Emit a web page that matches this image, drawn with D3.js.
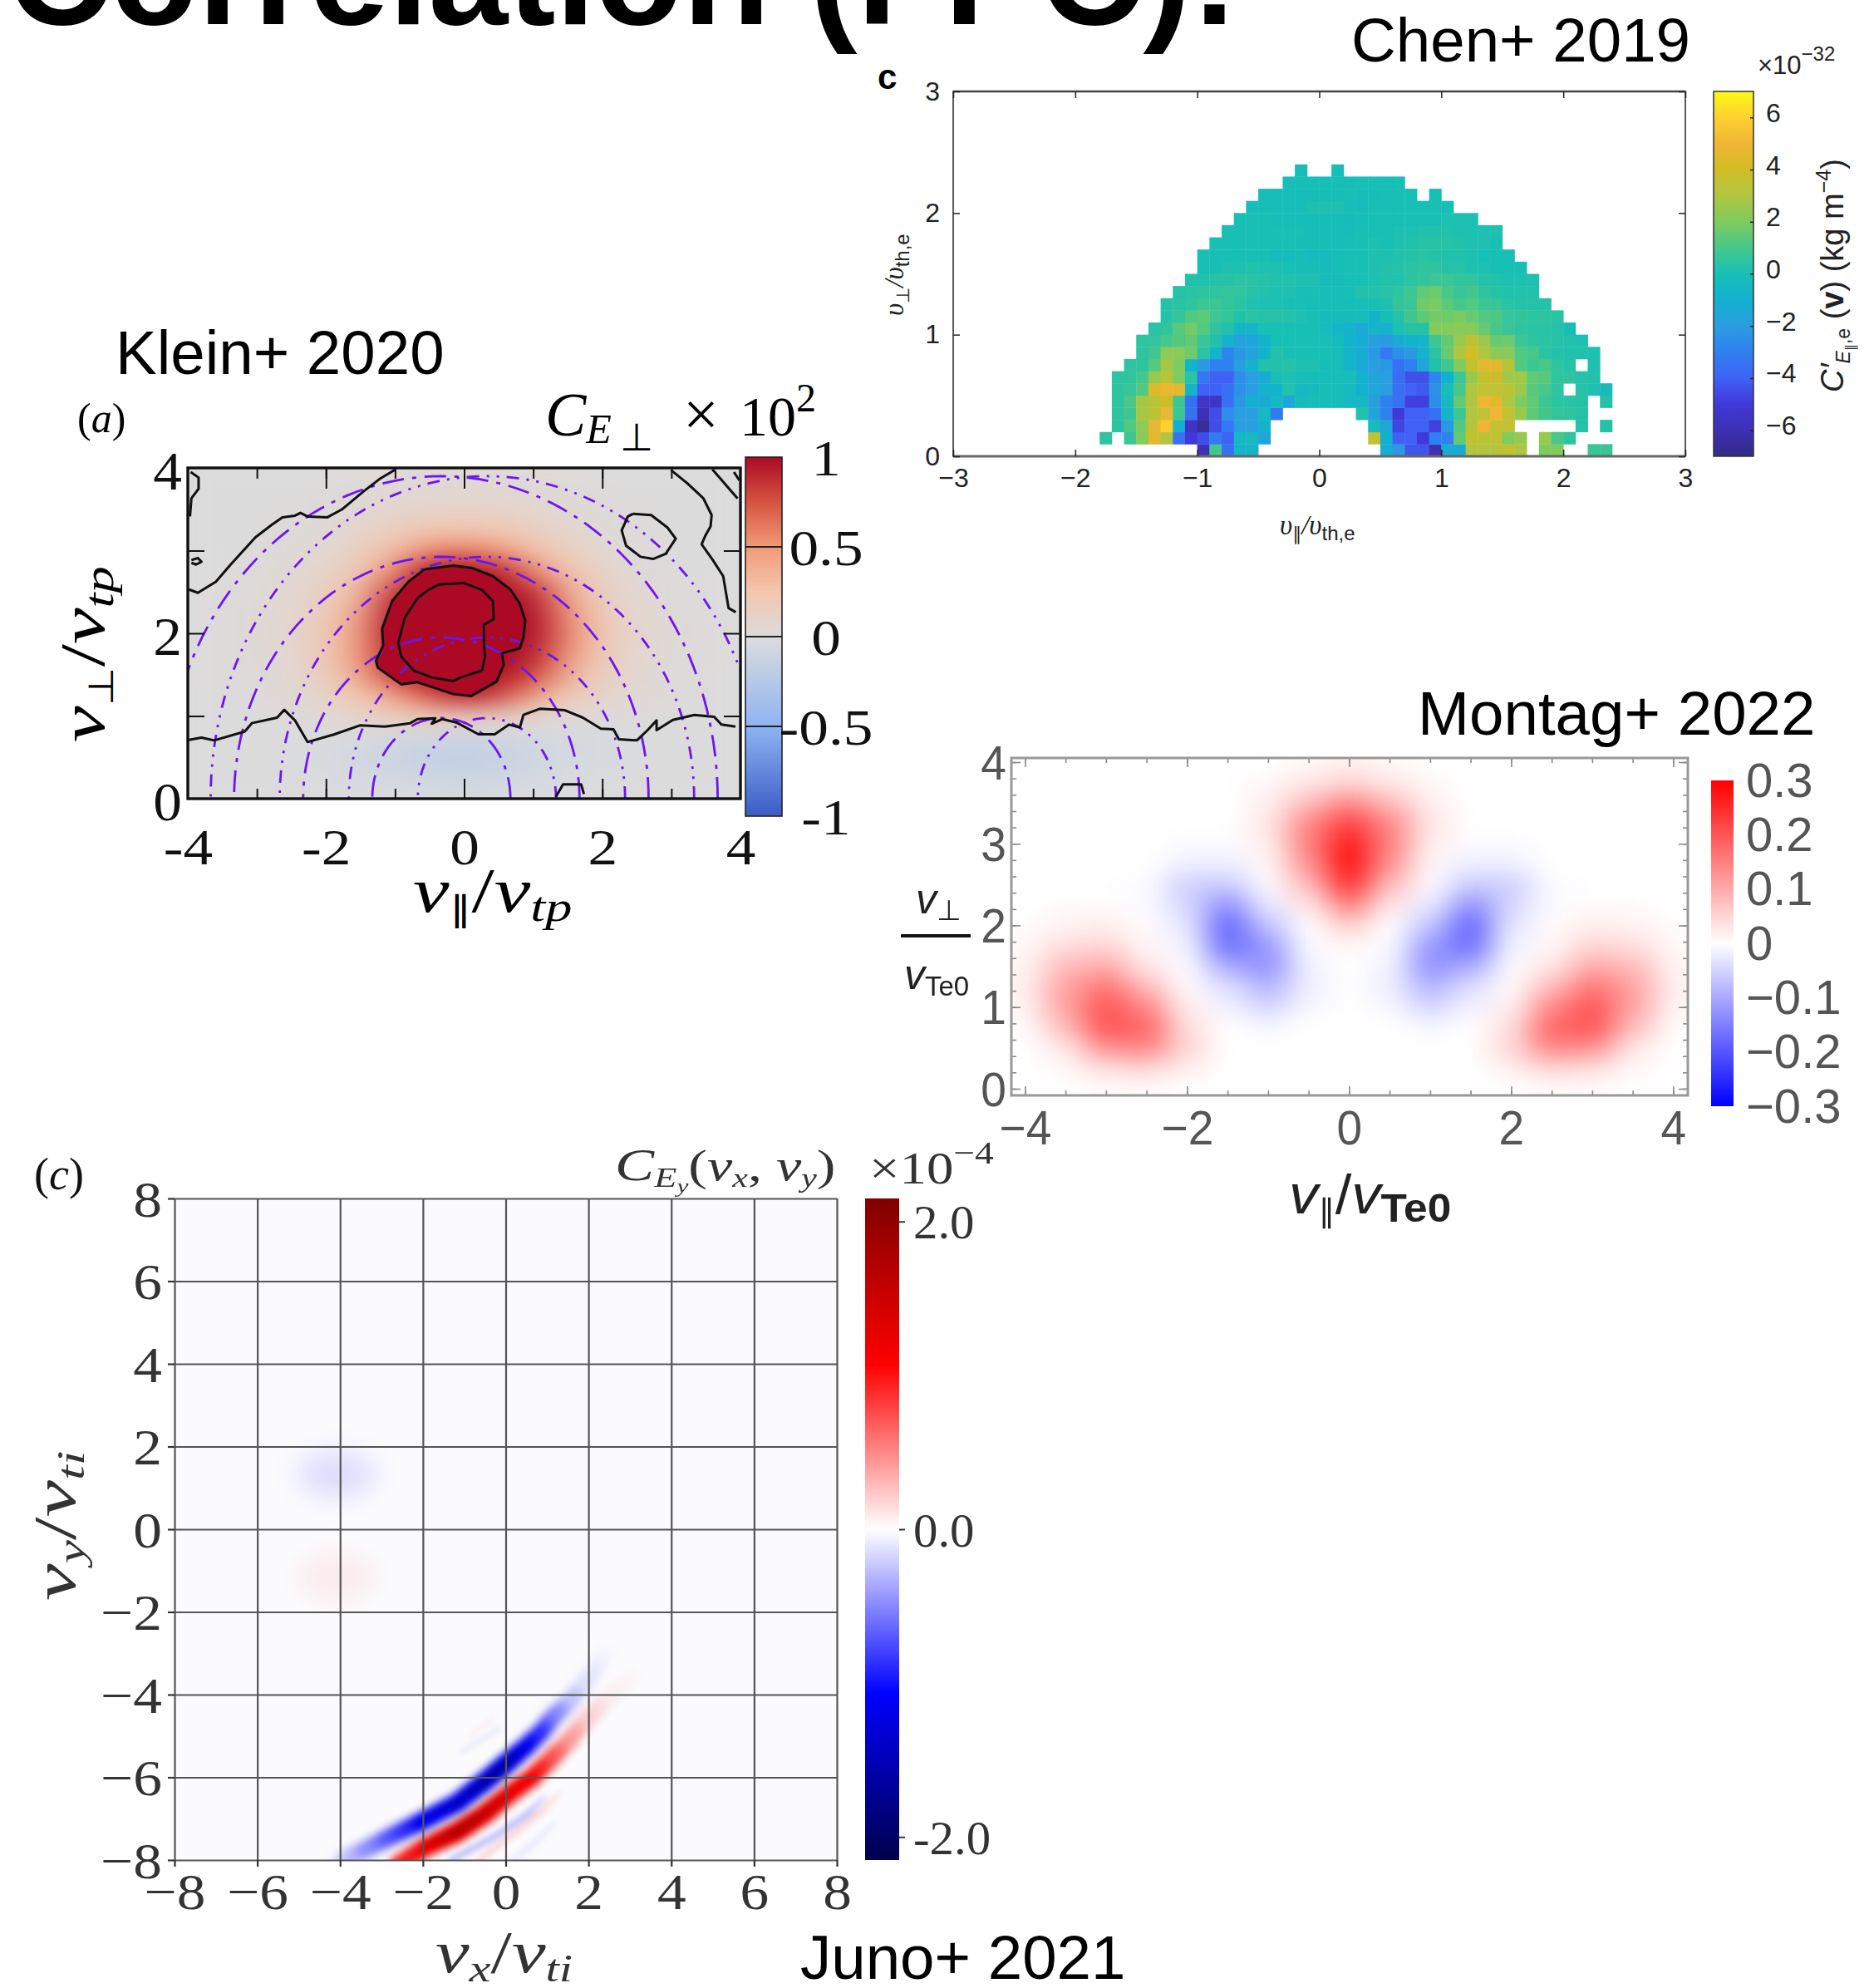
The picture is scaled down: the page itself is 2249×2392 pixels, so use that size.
<!DOCTYPE html>
<html><head><meta charset="utf-8">
<script src="https://cdn.jsdelivr.net/npm/d3@7/dist/d3.min.js"></script>
<style>html,body{margin:0;padding:0;background:#fff}svg{display:block}</style>
</head><body>
<svg id="c" width="2249" height="2392"></svg>
<script>
const _ = null;
// ---------- Chen+ 2019 : cells 0.1 x 0.1, column 0 starts at v_par=-2
const chenStarts = [10,2,3,3,3,3,3,4,5,5,6,7,7,8,9,10,10,11,12,13,14,15,17,18];
const chenRow0 = [-6,.9,-3.5,-.7,-.7,_,_,_,_,_,_,_,_,_,_,-1,-2.2,-4.3,-4.3,-6,-1.2,-1.2,3.2,3.2,3.2,3.6,3,_,2,2,_,_,.7,.7];
const chenRow1 = [.5,_,.8,2.2,4.7,3,-3.5,-5,-4.5,-3.2,-4,-.5,-.5,-1.5,_,_,_,_,_,_,_,_,3.5,-1,-4,-4,-5,-3,-3,1.5,3.5,3.3,3.5,2,2.5,_,2.5,1,.5];
const chenRow2 = [.5,1.2,2.3,4.8,6,-1,-5.5,-6.5,-4.5,-3.2,-2,-2,-.8,_,_,_,_,_,_,_,_,-.3,-1.5,-4.7,-4,-4,-4.8,-2.2,1.2,3.2,5,3.5,3.5,_,_,_,_,_,.3,_,.3];
const chenRow3 = [.5,.9,2.8,3.4,4.8,.8,-3.5,-6,-4.5,-2.5,-2,-2,-.5,-3.2,_,_,_,_,_,_,.2,-1.8,-3,-5,-4,-4,-3.5,-.8,.8,3,3.5,5,3.6,2.5,1.4,.9,.6,.5,.3];
const chenRow4 = [.5,1.1,2.8,3.3,4,.8,-3.5,-5.5,-5.5,-3.5,-2.2,-1,-1.3,-.5,-1.5,-.2,-.1,-.1,-.1,-.5,-.5,-2,-3,-3.5,-4.8,-4.8,-2.5,-.5,1.5,3,5,4.5,3,2,1.5,.8,.4,.4,.3,_,.3];
const chenRow5 = [.5,.7,1.2,4.4,4.8,4.6,-.7,-4,-4,-3.5,-2.4,-2,-.9,-.8,.2,-.5,-.3,-.1,-.1,-.4,-1,-1.5,-2,-3.6,-4,-4.2,-2.4,-.1,1,3,3.5,3.5,3.4,2.6,1.3,1,.5,_,.3,.1,-.2];
const chenRow6 = [.5,.5,1,2.5,3.3,2,.4,-3.3,-4,-4,-2.5,-2,-1.2,0,.1,-.1,-.1,-.1,-.1,-.1,-.9,-1.6,-2,-3.6,-4.4,-4.4,-2.8,-1,.8,2.5,3.6,3.8,2.7,2.7,1.5,1.3,.5,.5,.3,.2];
const chenRow7 = [.5,.5,1.3,2.8,2,-.9,-2.2,-3,-3,-2,-.8,.2,.2,.3,.1,.1,-.1,-.1,-.7,-1.3,-2,-2.2,-3.5,-3,-1.5,.2,.9,2,3.6,4.6,4.6,3.2,1.2,.8,1,.5,.3,_,.1];
const chenRow8 = [.5,.9,2.3,2.2,1.7,.4,-.8,-2.8,-2.2,-1.7,-.8,.2,0,0,0,0,-.1,-.7,-1.2,-2.2,-3.2,-2.5,-2.2,-.9,.4,1.6,3,4.1,3,2.2,2.2,1.2,1,.4,.2,.2,.2,.1];
const chenRow9 = [.5,.6,1,1.2,1.5,.7,.2,-.8,-1.7,-1.6,-.8,0,0,0,0,0,-.3,-.9,-1.1,-1.9,-2.1,-1.3,-.8,-.7,.8,1.5,2.6,3.4,2.6,1.6,1.7,.8,.5,.4,.3,.2,.1];
const chenRow10 = [.4,.6,1.3,1.8,1.2,.5,.2,-.6,-.7,0,0,0,0,0,-.3,-.6,-.9,-1.4,-.7,-.9,.1,.3,.3,2.1,2.1,2.2,2.2,1.6,1,.7,.5,.4,.4,.3,-.1];
const chenRow11 = [.3,.6,1.2,1.4,.8,.6,.2,.4,.3,.3,.3,.1,0,-.2,-.2,-.2,-.2,-.8,-.1,.3,.9,1.4,1.8,1.7,1.9,1.6,1.2,1.1,.7,.6,.5,.5,.4];
const chenRow12 = [.3,.4,.5,.8,.8,.6,.4,.2,.1,.1,0,0,-.1,-.1,-.1,-.1,-.1,0,.1,.6,.7,1.7,1.9,1.4,1,1.2,.8,.7,.4,.3,.3,.3];
const chenRow13 = [.3,.4,.5,.5,.6,.5,.3,.2,.1,.1,0,0,-.1,-.1,0,.2,.2,.3,.5,.8,1.5,1.7,1,.7,.9,.5,.3,.2,.2,.2];
const chenRow14 = [.2,.2,.3,.3,.4,.4,.3,.2,.2,.1,.1,-.2,-.2,0,0,.1,.2,.2,.4,.6,.8,.8,.6,.6,.3,.2,.1,.1,.1];
const chenRow15 = [0,0,.1,.1,.2,.1,.1,0,-.1,-.1,-.2,-.1,0,0,.1,.2,.3,.4,.5,.5,.3,.3,.1,.1,0,0,0];
const chenRow16 = [0,0,0,0,0,0,-.2,-.3,-.1,-.3,-.3,-.1,0,0,.1,.1,.2,.3,.4,.3,.2,.2,.1,0,0,0];
const chenRow17 = [0,0,0,0,0,0,0,-.1,-.1,-.1,-.1,0,0,.1,0,.1,.2,.3,.3,.3,.2,.1,.1,0];
const chenRow18 = [0,0,0,0,0,0,0,-.1,-.1,-.1,-.1,0,0,0,.1,.1,.2,.2,.2,.1,.1,.1,.1];
const chenRow19 = [0,0,0,-.1,-.1,-.1,-.1,-.1,-.1,-.2,-.1,0,0,0,0,0,0,.1,.1,.1];
const chenRow20 = [-.1,-.1,-.1,-.1,-.1,.1,.1,.1,-.1,-.2,0,0,0,0,0,0,0];
const chenRow21 = [-.1,-.1,-.1,-.1,-.1,-.1,-.1,0,-.1,-.1,0,0,0,_,0];
const chenRow22 = [-.1,-.1,-.1,-.1,-.1,-.1,0,0,0,0];
const chenRow23 = [-.1,_,_,-.1];
const chenRows = [chenRow0,chenRow1,chenRow2,chenRow3,chenRow4,chenRow5,chenRow6,chenRow7,chenRow8,chenRow9,chenRow10,chenRow11,chenRow12,chenRow13,chenRow14,chenRow15,chenRow16,chenRow17,chenRow18,chenRow19,chenRow20,chenRow21,chenRow22,chenRow23];
const chenColorValues = [-7,-6,-5,-4,-3,-2,-1,0,1,2,3,4,5,6,7];
const chenColors = ["#352a87","#3d30b4","#4038d8","#3f62f5","#2f80f0","#2a9ee0","#12b0d0","#18bfb5","#45c88a","#7fcb5e","#b0c640","#d0bd25","#f0b535","#ffd030","#f9fb15"];
const chenTicks = [-3,-2,-1,0,1,2,3];
const chenYTicks = [0,1,2,3];
const chenBarTicks = [6,4,2,0,-2,-4,-6];

// ---------- Klein+ 2020
const kleinX = [-4,-3.5,-3,-2.5,-2,-1.5,-1,-.5,0,.5,1,1.5,2,2.5,3,3.5,4];
const kleinY = [4,3.75,3.5,3.25,3,2.75,2.5,2.25,2,1.75,1.5,1.25,1,.75,.5,.25,0];
const kleinGrid = [
[0,0,0,0,0,0,.02,.03,.03,.03,.02,0,0,0,0,0,0],
[0,0,0,0,.01,.03,.04,.05,.05,.05,.04,.02,.01,0,0,0,0],
[0,0,0,.01,.03,.05,.08,.1,.1,.1,.07,.04,.02,.01,0,0,0],
[0,0,0,.02,.04,.09,.16,.22,.24,.22,.14,.08,.04,.01,0,0,0],
[0,0,.01,.03,.06,.14,.3,.55,.6,.5,.28,.14,.06,.02,0,0,0],
[0,0,.02,.04,.1,.22,.55,1,1,.95,.55,.25,.1,.03,.01,0,0],
[0,.01,.02,.06,.14,.32,.85,1,1,1,.9,.38,.14,.05,.02,0,0],
[0,.01,.03,.07,.18,.42,1,1,1,1,1,.5,.18,.07,.02,0,0],
[0,.01,.03,.08,.2,.5,1,1,1,1,1,.55,.2,.08,.03,.01,0],
[0,.01,.03,.07,.2,.5,.95,1,1,1,.95,.5,.18,.07,.02,.01,0],
[0,.01,.02,.06,.18,.42,.85,1,1,1,.8,.35,.15,.06,.02,0,0],
[0,0,.01,.04,.1,.25,.45,.75,.95,.8,.45,.2,.1,.04,.01,0,0],
[0,0,0,.01,.04,.1,.15,.18,.18,.12,.06,.04,.02,.01,0,0,0],
[0,0,0,0,-.01,-.03,-.05,-.08,-.08,-.07,-.06,-.05,-.03,-.01,0,0,0],
[0,0,0,-.01,-.03,-.07,-.12,-.16,-.2,-.15,-.08,-.05,-.03,-.01,0,0,0],
[0,0,0,0,-.02,-.04,-.06,-.08,-.1,-.08,-.05,-.03,-.01,0,0,0,0],
[0,0,0,0,0,-.01,-.02,-.03,-.03,-.03,-.02,-.01,0,0,0,0,0]];
const kleinColorValues = [-1,-.5,-.02,.02,.25,.5,.75,1];
const kleinColors = ["#3a5cc6","#8fb4f2","#d9dbde","#dedad8","#f3c6ae","#f19a78","#d6533f","#ac0a24"];
const kleinOuter = [[-.573,2.775],[-.156,2.819],[.104,2.792],[.417,2.691],[.677,2.523],[.807,2.356],[.885,2.154],[.859,1.953],[.807,1.819],[.547,1.758],[.573,1.617],[.469,1.416],[.104,1.242],[-.156,1.265],[-.521,1.366],[-.677,1.409],[-.911,1.383],[-1.25,1.584],[-1.276,1.668],[-1.172,1.852],[-1.188,2.054],[-1.042,2.389],[-.807,2.624],[-.573,2.775]];
const kleinInner = [[-.365,2.591],[0,2.607],[.26,2.523],[.417,2.389],[.427,2.171],[.286,2.104],[.286,1.886],[.302,1.718],[.26,1.55],[-.052,1.466],[-.156,1.423],[-.469,1.466],[-.729,1.55],[-.911,1.718],[-.953,1.886],[-.859,2.188],[-.677,2.423],[-.521,2.523],[-.365,2.591]];
const kleinZero = [[-3.984,.711],[-3.802,.738],[-3.62,.705],[-3.177,.812],[-3.073,.913],[-2.708,.98],[-2.604,1.074],[-2.448,.946],[-2.266,.685],[-1.875,.779],[-1.51,.886],[-1.146,.872],[-.781,.913],[-.677,.963],[-.417,.973],[-.469,.906],[-.313,.963],[-.104,.919],[.208,.779],[.443,.779],[.651,.896],[.807,.862],[.859,1.013],[1.094,1.087],[1.458,1.07],[1.719,.98],[1.979,.846],[2.161,.839],[2.24,.718],[2.5,.705],[2.656,.829],[2.786,.946],[2.786,.829],[3.021,.953],[3.333,1.013],[3.62,.99],[3.724,.896],[3.927,.872]];
const kleinUpperLeft = [[-3.984,2.53],[-3.854,2.49],[-3.594,2.624],[-3.385,2.826],[-3.021,3.161],[-2.786,3.312],[-2.63,3.403],[-2.448,3.423],[-2.37,3.456],[-2.266,3.413],[-1.979,3.403],[-1.771,3.497],[-1.458,3.715],[-1.224,3.866],[-.99,3.983]];
const kleinUpperRight = [[2.995,3.973],[3.229,3.815],[3.464,3.631],[3.583,3.43],[3.568,3.295],[3.49,3.178],[3.438,3.077],[3.594,2.893],[3.75,2.691],[3.828,2.305],[3.932,2.255]];
const kleinLoop = [[2.448,3.446],[2.708,3.43],[2.943,3.279],[3.063,3.144],[2.917,2.96],[2.734,2.899],[2.552,2.926],[2.344,3.06],[2.281,3.245],[2.37,3.413],[2.448,3.446]];
const kleinCornerA = [[-3.958,3.95],[-3.844,3.883],[-3.844,3.748],[-3.948,3.631],[-3.969,3.413]];
const kleinCornerB = [[-3.948,2.886],[-3.854,2.909],[-3.802,2.866],[-3.88,2.832],[-3.948,2.852]];
const kleinCornerC = [[3.594,3.983],[3.958,3.631]];
const kleinCornerD = [[3.906,3.95],[3.984,3.85]];
const kleinBottom = [[1.328,.023],[1.432,.174],[1.693,.174],[1.734,.057]];
const kleinContours = [kleinOuter,kleinInner,kleinZero,kleinUpperLeft,kleinUpperRight,kleinLoop,kleinCornerA,kleinCornerB,kleinCornerC,kleinCornerD,kleinBottom];
const arcCentersDash = [-.33];
const arcCentersDots = [.33];
const arcRadii = [1,2,3,4];
const kleinXTicks = [-4,-2,0,2,4];
const kleinYTicks = [0,2,4];
const kleinBarTicks = [1,.5,0,-.5,-1];

// ---------- Montag+ 2022
const montagX = [-4,-3.5,-3,-2.5,-2,-1.5,-1,-.5,0,.5,1,1.5,2,2.5,3,3.5,4];
const montagY = [4,3.75,3.5,3.25,3,2.75,2.5,2.25,2,1.75,1.5,1.25,1,.75,.5,.25,0];
const montagGrid = [
[0,0,0,0,0,0,0,.01,.02,.01,0,0,0,0,0,0,0],
[0,0,0,0,0,0,.01,.03,.05,.03,.01,0,0,0,0,0,0],
[0,0,0,0,0,0,.02,.08,.14,.08,.02,0,0,0,0,0,0],
[0,0,0,0,0,0,.03,.14,.22,.14,.03,0,0,0,0,0,0],
[0,0,0,0,-.005,-.005,.02,.15,.27,.15,.02,-.005,-.005,0,0,0,0],
[0,0,0,0,-.02,-.02,.01,.13,.28,.13,.01,-.02,-.02,0,0,0,0],
[0,0,0,-.005,-.055,-.06,-.005,.08,.24,.08,-.005,-.06,-.055,-.005,0,0,0],
[0,.005,.005,-.005,-.05,-.13,-.025,.03,.15,.03,-.025,-.13,-.05,-.005,.005,.005,0],
[.005,.015,.02,.005,-.03,-.18,-.07,0,.06,0,-.07,-.18,-.03,.005,.02,.015,.005],
[.01,.04,.05,.01,-.015,-.17,-.12,-.005,.01,-.005,-.12,-.17,-.015,.01,.05,.04,.01],
[.015,.08,.1,.03,-.005,-.1,-.13,-.015,0,-.015,-.13,-.1,-.005,.03,.1,.08,.015],
[.02,.11,.16,.08,.005,-.04,-.09,-.02,0,-.02,-.09,-.04,.005,.08,.16,.11,.02],
[.015,.11,.2,.14,.02,-.015,-.05,-.01,0,-.01,-.05,-.015,.02,.14,.2,.11,.015],
[.005,.08,.2,.18,.04,0,-.01,0,0,0,-.01,0,.04,.18,.2,.08,.005],
[0,.03,.13,.14,.05,0,0,0,0,0,0,0,.05,.14,.13,.03,0],
[0,.01,.04,.05,.02,0,0,0,0,0,0,0,.02,.05,.04,.01,0],
[0,0,.005,.005,0,0,0,0,0,0,0,0,0,.005,.005,0,0]];
const montagColorValues = [-.3,0,.3];
const montagColors = ["#0000ff","#ffffff","#ff0000"];
const montagXTicks = [-4,-2,0,2,4];
const montagYTicks = [0,1,2,3,4];
const montagBarTicks = [.3,.2,.1,0,-.1,-.2,-.3];

// ---------- Juno+ 2021
const junoTicks = [-8,-6,-4,-2,0,2,4,6,8];
const junoBarTicks = [2,0,-2];
const junoColorValues = [-2.15,-1.07,0,1.07,2.15];
const junoColors = ["#00004c","#0000ff","#ffffff","#ff0000","#7f0000"];
const junoBlue = [[-3.93,-8,-.2],[-3.39,-7.75,-.45],[-2.85,-7.47,-.7],[-2.05,-7.08,-1.15],[-1.17,-6.62,-1.35],[-.5,-6.1,-1.5],[0,-5.68,-1.55],[.5,-5.25,-1.2],[.84,-4.92,-.9],[1.17,-4.52,-.55],[1.58,-4.12,-.25],[1.91,-3.72,-.12],[2.38,-3.05,-.03]];
const junoRed = [[-2.58,-8.1,.9],[-1.91,-7.68,1.25],[-1.17,-7.32,1.65],[-.5,-6.88,1.5],[.17,-6.34,1.2],[.64,-6,1.1],[1.11,-5.53,.75],[1.51,-5.13,.45],[1.98,-4.56,.2],[2.52,-4.06,.06],[3.05,-3.59,.02]];
const junoRipples = [
 [[-1.31,-8,-.25],[-.3,-7.45,-.25],[.5,-6.91,-.25],[.91,-6.51,-.12]],
 [[-.64,-8,.15],[.17,-7.38,.15],[.84,-6.85,.15],[1.31,-6.38,.06]],
 [[.17,-8,-.07],[.77,-7.52,-.07],[1.17,-7.11,-.04]],
 [[-1.04,-5.37,-.06],[-.17,-4.83,-.06]],
 [[-.84,-4.97,.04],[-.3,-4.56,.04]]];
const junoBlobs = [[-4.08,1.33,.95,.55,-.13],[-4.08,-1.15,.95,.55,.07]];
const streakWidths = [32,23,15];
const streakFactors = [.2,.6,1];

// ---------- helpers
const svg = d3.select("#c");
const defs = svg.append("defs");
const SERIF = "'Liberation Serif',serif", SANS = "'Liberation Sans',sans-serif", DJV="'DejaVu Sans',sans-serif";
function blur(id, s){ const f=defs.append("filter").attr("id",id).attr("x","-30%").attr("y","-30%").attr("width","160%").attr("height","160%").attr("color-interpolation-filters","sRGB"); f.append("feGaussianBlur").attr("stdDeviation",s); return "url(#"+id+")"; }
function clip(id,x,y,w,h){ defs.append("clipPath").attr("id",id).append("rect").attr("x",x).attr("y",y).attr("width",w).attr("height",h); return "url(#"+id+")"; }
function gradient(id, values, colors){ const g=defs.append("linearGradient").attr("id",id).attr("x1",0).attr("x2",0).attr("y1",1).attr("y2",0); const a=values[0], b=values[values.length-1]; values.forEach((v,i)=>g.append("stop").attr("offset",(v-a)/(b-a)).attr("stop-color",colors[i])); return "url(#"+id+")"; }
// runs: [text, size, baselineOffset, style, family, weight]
function rich(g,x,y,runs,o={}){ const t=g.append("text").attr("fill",o.fill||"#000").attr("text-anchor",o.anchor||"start").attr("transform",`translate(${x},${y}) rotate(${o.rotate||0}) scale(${o.sx||1},1)`); let cur=0; runs.forEach(r=>{ t.append("tspan").text(r[0]).attr("font-size",r[1]).attr("dy",(r[2]||0)-cur).attr("font-style",r[3]||"normal").attr("font-family",r[4]||SERIF).attr("font-weight",r[5]||"normal"); cur=r[2]||0; }); return t; }
function styleAxis(g,fs,family,color,tw,dy){ g.select(".domain").remove(); g.selectAll("line").attr("stroke",color).attr("stroke-width",tw); const t=g.selectAll("text").attr("font-size",fs).attr("font-family",family).attr("fill",color); if(dy!==undefined) t.attr("dy",dy); return g; }
function stretch(g,sx){ g.selectAll("text").each(function(){ const x=+this.getAttribute("x")||0; d3.select(this).attr("x",x/sx).attr("transform",`scale(${sx},1)`); }); return g; }
const hy = s=>String(s).replace("-","\u2212");

// big heading
svg.append("text").attr("x",9).attr("y",29).attr("font-family",SANS).attr("font-weight","bold").attr("font-size",172).text("Correlation (FPC):");
[["Chen+ 2019",1626,74],["Klein+ 2020",139,450],["Montag+ 2022",1706,884],["Juno+ 2021",963,2381]].forEach(d=>svg.append("text").attr("x",d[1]).attr("y",d[2]).attr("font-family",SANS).attr("font-size",74.5).text(d[0]));

// ================= CHEN
(function(){
 const g=svg.append("g");
 const x=d3.scaleLinear().domain([-3,3]).range([1147,2028]);
 const y=d3.scaleLinear().domain([0,3]).range([549,110]);
 const color=d3.scaleLinear().domain(chenColorValues).range(chenColors);
 const cells=[]; chenRows.forEach((row,r)=>row.forEach((v,i)=>{ if(v!==null) cells.push({x:-2+(chenStarts[r]+i)*.1,y:r*.1,v}); }));
 g.append("g").attr("filter",blur("bChen",.7)).selectAll("rect").data(cells).join("rect")
  .attr("x",d=>x(d.x)).attr("y",d=>y(d.y+.1)).attr("width",x(.1)-x(0)+.4).attr("height",y(0)-y(.1)+.4).attr("fill",d=>color(d.v));
 const frame=g.append("g");
 frame.append("rect").attr("x",1147).attr("y",110).attr("width",881).attr("height",439).attr("fill","none").attr("stroke","#333").attr("stroke-width",1.6);
 frame.append("line").attr("x1",1147).attr("x2",2028).attr("y1",549).attr("y2",549).attr("stroke","#666").attr("stroke-width",3);
 frame.append("line").attr("x1",1147).attr("x2",2028).attr("y1",110).attr("y2",110).attr("stroke","#444").attr("stroke-width",2.5);
 styleAxis(g.append("g").attr("transform","translate(0,549)").call(d3.axisBottom(x).tickValues(chenTicks).tickSizeInner(-8).tickSizeOuter(0).tickPadding(17).tickFormat(hy)),32,SANS,"#222",1.5,".62em");
 styleAxis(g.append("g").attr("transform","translate(0,110)").call(d3.axisTop(x).tickValues(chenTicks).tickSizeInner(-8).tickSizeOuter(0).tickFormat("")),30,SANS,"#222",1.5);
 styleAxis(g.append("g").attr("transform","translate(1147,0)").call(d3.axisLeft(y).tickValues(chenYTicks).tickSizeInner(-8).tickSizeOuter(0).tickPadding(16).tickFormat(d3.format("d"))),32,SANS,"#222",1.5,"10px");
 styleAxis(g.append("g").attr("transform","translate(2028,0)").call(d3.axisRight(y).tickValues(chenYTicks).tickSizeInner(-8).tickSizeOuter(0).tickFormat("")),30,SANS,"#222",1.5);
 const yb=d3.scaleLinear().domain([-7,7]).range([549,110]);
 g.append("rect").attr("x",2062).attr("y",110).attr("width",48).attr("height",439).attr("fill",gradient("gChen",chenColorValues,chenColors)).attr("stroke","#333").attr("stroke-width",1.5);
 styleAxis(g.append("g").attr("transform","translate(2110,0)").call(d3.axisRight(yb).tickValues(chenBarTicks).tickSizeInner(-4).tickSizeOuter(0).tickPadding(15).tickFormat(hy)),32,SANS,"#222",1.5,"5px");
 rich(g,1056,107,[["c",42,0,"normal",SANS,"bold"]]);
 rich(g,1540,643,[["υ",33,0,"italic",SERIF],["∥",22,7,"normal",DJV],["/υ",33,0,"italic",SERIF],["th,e",24,7,"normal",SANS]],{fill:"#222"});
 rich(g,1087,380,[["υ",33,0,"italic",SERIF],["⊥",22,7,"normal",DJV],["/υ",33,0,"italic",SERIF],["th,e",24,7,"normal",SANS]],{fill:"#222",rotate:-90});
 rich(g,2115,89,[["×10",31,0,"normal",SANS],["−32",24,-16,"normal",SANS]],{fill:"#222"});
 rich(g,2218,472,[["C′",38,0,"italic",SANS],["E",23,8,"italic",SANS],["∥",16,14,"normal",DJV],[",e",23,8,"normal",SANS],[" (",38,0,"normal",SANS],["v",38,0,"normal",SANS,"bold"],[") (kg m",38,0,"normal",SANS],["−4",25,-15,"normal",SANS],[")",38,0,"normal",SANS]],{fill:"#222",rotate:-90});
})();

// ================= KLEIN
(function(){
 const g=svg.append("g");
 const x=d3.scaleLinear().domain([-4,4]).range([226,891]);
 const y=d3.scaleLinear().domain([0,4]).range([961,563]);
 const color=d3.scaleLinear().domain(kleinColorValues).range(kleinColors);
 const cp=clip("cKlein",226,563,665,398);
 const body=g.append("g").attr("clip-path",cp);
 body.append("rect").attr("x",226).attr("y",563).attr("width",665).attr("height",398).attr("fill",color(0));
 const cells=[]; kleinGrid.forEach((row,r)=>row.forEach((v,c)=>cells.push({x:kleinX[c],y:kleinY[r],v})));
 body.append("g").attr("filter",blur("bKlein","24 13")).selectAll("rect").data(cells).join("rect")
  .attr("x",d=>x(d.x-.25)).attr("y",d=>y(d.y+.125)).attr("width",x(.5)-x(0)+1).attr("height",y(0)-y(.25)+1).attr("fill",d=>color(d.v));
 const line=d3.line().x(d=>x(d[0])).y(d=>y(d[1]));
 body.append("path").attr("d",line(kleinOuter)).attr("fill",color(1));
 const arc=d3.line().x(d=>x(d[0])).y(d=>y(d[1]));
 const pts=(c,r)=>d3.range(0,181,2).map(a=>[c+r*Math.cos(a*Math.PI/180),.975*r*Math.sin(a*Math.PI/180)]);
 arcRadii.forEach(r=>{
  arcCentersDash.forEach(c=>body.append("path").attr("d",arc(pts(c,r))).attr("fill","none").attr("stroke","#6a16f0").attr("stroke-width",2.8).attr("stroke-dasharray","26 10 5 10"));
  arcCentersDots.forEach(c=>body.append("path").attr("d",arc(pts(c,r))).attr("fill","none").attr("stroke","#6a16f0").attr("stroke-width",2.8).attr("stroke-dasharray","15 9 3 9 3 9"));
 });
 kleinContours.forEach(c=>body.append("path").attr("d",line(c)).attr("fill","none").attr("stroke","#111").attr("stroke-width",3).attr("stroke-linejoin","round"));
 const minor=[-3,-2,-1,0,1,2,3], major=[-2,0,2];
 [[d3.axisBottom,961,major,-24],[d3.axisBottom,961,minor,-12],[d3.axisTop,563,major,-25],[d3.axisTop,563,minor,-13]].forEach(a=>styleAxis(g.append("g").attr("transform",`translate(0,${a[1]})`).call(a[0](x).tickValues(a[2]).tickSizeInner(a[3]).tickSizeOuter(0).tickFormat("")),53,SERIF,"#111",2));
 [[d3.axisLeft,226],[d3.axisRight,891]].forEach(a=>{ styleAxis(g.append("g").attr("transform",`translate(${a[1]},0)`).call(a[0](y).tickValues([1,2,3]).tickSizeInner(-20).tickSizeOuter(0).tickFormat("")),53,SERIF,"#111",2); });
 g.append("rect").attr("x",226).attr("y",563).attr("width",665).attr("height",398).attr("fill","none").attr("stroke","#111").attr("stroke-width",3.4);
 stretch(styleAxis(g.append("g").attr("transform","translate(0,961)").call(d3.axisBottom(x).tickValues(kleinXTicks).tickSize(0).tickPadding(35).tickFormat(String)),62,SERIF,"#111",0,".71em"),1.15);
 stretch(styleAxis(g.append("g").attr("transform","translate(226,0)").call(d3.axisLeft(y).tickValues(kleinYTicks).tickSize(0).tickPadding(7).tickFormat(String)),66,SERIF,"#111",0,"25px"),1.05);
 const yb=d3.scaleLinear().domain([-1,1]).range([982,550]);
 g.append("rect").attr("x",897).attr("y",550).attr("width",44).attr("height",432).attr("fill",gradient("gKlein",kleinColorValues,kleinColors)).attr("stroke","#222").attr("stroke-width",1.6);
 g.append("g").selectAll("line").data([.5,0,-.5]).join("line").attr("x1",897).attr("x2",941).attr("y1",d=>yb(d)).attr("y2",d=>yb(d)).attr("stroke","#222").attr("stroke-width",1.8);
 const bar=g.append("g").attr("transform","translate(941,0)").call(d3.axisRight(yb).tickValues(kleinBarTicks).tickSize(0).tickPadding(0).tickFormat(String));
 styleAxis(bar,62,SERIF,"#111",0,"21px").selectAll("text").attr("text-anchor","middle").attr("x",53);
 stretch(bar,1.15);
 rich(g,93,520,[["(",50,0],["a",50,0,"italic"],[")",50,0]]);
 rich(g,656,524,[["C",74,0,"italic"],["E",50,9,"italic"]]);
 rich(g,746,542,[["⊥",46,0,"normal",DJV]]);
 rich(g,822,524,[["×",76,0]]);
 rich(g,890,524,[["10",68,0],["2",48,-29]]);
 rich(g,497,1097,[["v",76,0,"italic"],["∥",42,11,"normal",DJV],["/",76,0,"normal"],["v",76,0,"italic"],["tp",50,11,"italic"]],{sx:1.29});
 rich(g,125,893,[["v",76,0,"italic"],["⊥",42,11,"normal",DJV],["/",76,0,"normal"],["v",76,0,"italic"],["tp",50,11,"italic"]],{rotate:-90,sx:1.29});
})();

// ================= MONTAG
(function(){
 const g=svg.append("g");
 const x=d3.scaleLinear().domain([-4,4]).range([1233.4,2013.4]);
 const y=d3.scaleLinear().domain([0,4]).range([1310,917]);
 const color=d3.scaleLinear().domain(montagColorValues).range(montagColors);
 const cp=clip("cMontag",1217,912,814,406);
 const body=g.append("g").attr("clip-path",cp);
 const cells=[]; montagGrid.forEach((row,r)=>row.forEach((v,c)=>cells.push({x:montagX[c],y:montagY[r],v})));
 body.append("g").attr("filter",blur("bMontag","18 11")).selectAll("rect").data(cells).join("rect")
  .attr("x",d=>x(d.x-.25)).attr("y",d=>y(d.y+.125)).attr("width",x(.5)-x(0)+1).attr("height",y(0)-y(.25)+1).attr("fill",d=>color(d.v));
 const col="#8a8a8a";
 [[d3.axisBottom,1318,d3.range(-4,4.01,.5),-6],[d3.axisTop,912,d3.range(-4,4.01,.5),-6],[d3.axisBottom,1318,montagXTicks,-11],[d3.axisTop,912,montagXTicks,-11]].forEach(a=>styleAxis(g.append("g").attr("transform",`translate(0,${a[1]})`).call(a[0](x).tickValues(a[2]).tickSizeInner(a[3]).tickSizeOuter(0).tickFormat("")),10,SANS,col,1.6));
 [[d3.axisLeft,1217],[d3.axisRight,2031]].forEach(a=>{
  styleAxis(g.append("g").attr("transform",`translate(${a[1]},0)`).call(a[0](y).tickValues(d3.range(0,4.01,.2)).tickSizeInner(-6).tickSizeOuter(0).tickFormat("")),10,SANS,col,1.6);
  styleAxis(g.append("g").attr("transform",`translate(${a[1]},0)`).call(a[0](y).tickValues(montagYTicks).tickSizeInner(-11).tickSizeOuter(0).tickFormat("")),10,SANS,col,1.6);
 });
 g.append("rect").attr("x",1217).attr("y",912).attr("width",814).attr("height",406).attr("fill","none").attr("stroke","#999").attr("stroke-width",3);
 const soft=blur("bSoft",.7);
 const labels=g.append("g").attr("filter",soft);
 stretch(styleAxis(labels.append("g").attr("transform","translate(0,1318)").call(d3.axisBottom(x).tickValues(montagXTicks).tickSize(0).tickPadding(18).tickFormat(hy)),58,SANS,"#555",0,".71em"),.95);
 stretch(styleAxis(labels.append("g").attr("transform","translate(1217,0)").call(d3.axisLeft(y).tickValues(montagYTicks).tickSize(0).tickPadding(6).tickFormat(d3.format("d"))),58,SANS,"#555",0,"20px"),.95);
 const yb=d3.scaleLinear().domain([-.3,.3]).range([1331,939]);
 g.append("rect").attr("x",2059).attr("y",939).attr("width",27).attr("height",392).attr("fill",gradient("gMontag",montagColorValues,montagColors));
 stretch(styleAxis(labels.append("g").attr("transform","translate(2086,0)").call(d3.axisRight(yb).tickValues(montagBarTicks).tickSizeInner(3).tickSizeOuter(0).tickPadding(12).tickFormat(d=>hy(d))),58,SANS,"#555",0,"19px"),1);
 rich(labels,1102,1099,[["v",50,0,"italic",SANS],["⊥",34,8,"normal",DJV]],{fill:"#222"});
 g.append("line").attr("x1",1084).attr("x2",1168).attr("y1",1126).attr("y2",1126).attr("stroke","#111").attr("stroke-width",4);
 rich(labels,1088,1190,[["v",50,0,"italic",SANS],["Te0",33,8,"normal",SANS]],{fill:"#222"});
 rich(labels,1551,1460,[["v",66,0,"italic",SANS],["∥",38,10,"normal",DJV],["/",66,0,"normal",SANS],["v",66,0,"italic",SANS],["Te0",48,10,"bold",SANS,"bold"]],{fill:"#222",sx:1.07});
})();

// ================= JUNO
(function(){
 const g=svg.append("g");
 const x=d3.scaleLinear().domain([-8,8]).range([210,1007]);
 const y=d3.scaleLinear().domain([-8,8]).range([2238,1442]);
 const color=d3.scaleLinear().domain(junoColorValues).range(junoColors);
 const cp=clip("cJuno",210,1442,797,796);
 const body=g.append("g").attr("clip-path",cp);
 body.append("rect").attr("x",210).attr("y",1442).attr("width",797).attr("height",796).attr("fill","#fbfbfd");
 body.append("g").attr("filter",blur("bJBlob",16)).style("mix-blend-mode","multiply").selectAll("ellipse").data(junoBlobs).join("ellipse")
  .attr("cx",d=>x(d[0])).attr("cy",d=>y(d[1])).attr("rx",d=>x(d[2])-x(0)).attr("ry",d=>y(0)-y(d[3])).attr("fill",d=>color(d[4]));
 const b2=blur("bStreak",3.6);
 let gid=0;
 function drawRidge(parent,points,w,f){
  const segs=d3.pairs(points);
  parent.append("g").selectAll("line").data(segs).join("line")
   .attr("x1",d=>x(d[0][0])).attr("y1",d=>y(d[0][1])).attr("x2",d=>x(d[1][0])).attr("y2",d=>y(d[1][1]))
   .attr("stroke-width",w).attr("stroke-linecap","round")
   .attr("stroke",d=>{ const id="seg"+(gid++); const lg=defs.append("linearGradient").attr("id",id).attr("gradientUnits","userSpaceOnUse").attr("x1",x(d[0][0])).attr("y1",y(d[0][1])).attr("x2",x(d[1][0])).attr("y2",y(d[1][1])); lg.append("stop").attr("offset",0).attr("stop-color",color(d[0][2]*f)); lg.append("stop").attr("offset",1).attr("stop-color",color(d[1][2]*f)); return "url(#"+id+")"; });
 }
 const rp=body.append("g").attr("filter",b2).style("mix-blend-mode","multiply");
 junoRipples.forEach(p=>drawRidge(rp,p,8,1));
 [junoBlue,junoRed].forEach(ridge=>{ const rg=body.append("g").attr("filter",b2).style("mix-blend-mode","multiply");
  streakWidths.forEach((w,i)=>drawRidge(rg,ridge,w,streakFactors[i])); });
 const soft=blur("bSoft2",.7);
 const grid=g.append("g").attr("filter",soft);
 styleAxis(grid.append("g").attr("transform","translate(0,2238)").call(d3.axisBottom(x).tickValues(junoTicks).tickSizeInner(-796).tickSizeOuter(0).tickFormat("")),10,SERIF,"#555",2.2);
 styleAxis(grid.append("g").attr("transform","translate(210,0)").call(d3.axisLeft(y).tickValues(junoTicks).tickSizeInner(-797).tickSizeOuter(0).tickFormat("")),10,SERIF,"#555",2.2);
 styleAxis(grid.append("g").attr("transform","translate(0,2238)").call(d3.axisBottom(x).tickValues(junoTicks).tickSizeInner(8).tickSizeOuter(0).tickFormat("")),10,SERIF,"#333",2.2);
 styleAxis(grid.append("g").attr("transform","translate(210,0)").call(d3.axisLeft(y).tickValues(junoTicks).tickSizeInner(8).tickSizeOuter(0).tickFormat("")),10,SERIF,"#333",2.2);
 const t=g.append("g").attr("filter",soft);
 stretch(styleAxis(t.append("g").attr("transform","translate(0,2238)").call(d3.axisBottom(x).tickValues(junoTicks).tickSize(0).tickPadding(15).tickFormat(hy)),62,SERIF,"#333",0,".71em"),1.12);
 stretch(styleAxis(t.append("g").attr("transform","translate(210,0)").call(d3.axisLeft(y).tickValues(junoTicks).tickSize(0).tickPadding(15).tickFormat(hy)),62,SERIF,"#333",0,"21px"),1.12);
 const yb=d3.scaleLinear().domain([-2.15,2.15]).range([2238,1442]);
 g.append("rect").attr("x",1041).attr("y",1442).attr("width",41).attr("height",796).attr("fill",gradient("gJuno",junoColorValues,junoColors));
 const bt=t.append("g").attr("transform","translate(1082,0)").call(d3.axisRight(yb).tickValues(junoBarTicks).tickSizeInner(7).tickSizeOuter(0).tickPadding(10).tickFormat(d=>d===0?"0.0":d.toFixed(1)));
 stretch(styleAxis(bt,56,SERIF,"#333",2,"20px"),1.05);
 rich(t,41,1431,[["(",54,0],["c",54,0,"italic"],[")",54,0]],{fill:"#111"});
 rich(t,740,1420,[["C",54,0,"italic"],["E",34,8,"italic"],["y",24,15,"italic"],["(",52,0],["v",52,0,"italic"],["x",32,8,"italic"],[", ",52,0],["v",52,0,"italic"],["y",32,8,"italic"],[")",52,0]],{fill:"#333",sx:1.31});
 rich(t,1046,1424,[["×10",54,0],["−4",38,-24]],{fill:"#333",sx:1.2});
 rich(t,524,2373,[["v",72,0,"italic"],["x",46,11,"italic"],["/",72,0],["v",72,0,"italic"],["ti",46,11,"italic"]],{fill:"#333",sx:1.27});
 rich(t,90,1926,[["v",72,0,"italic"],["y",46,11,"italic"],["/",72,0],["v",72,0,"italic"],["ti",46,11,"italic"]],{fill:"#333",rotate:-90,sx:1.39});
})();
</script>
</body></html>
